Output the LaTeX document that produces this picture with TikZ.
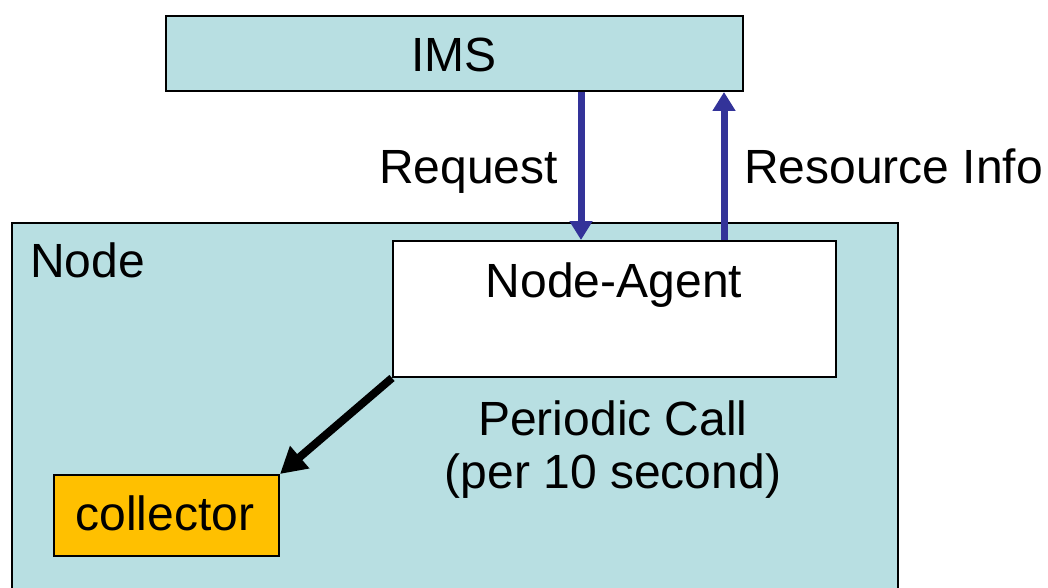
\documentclass[tikz,border=0pt]{standalone}
\usepackage{fontspec}
\setmainfont{Liberation Sans}
\usetikzlibrary{arrows.meta}
\definecolor{paleaqua}{HTML}{B8DFE2}
\definecolor{flowblue}{HTML}{333399}
\definecolor{amber}{HTML}{FFC000}
\tikzset{
  panel/.style={draw=black, line width=2pt, inner sep=0pt, anchor=north west},
  txt/.style={inner sep=0pt, font=\fontsize{48}{52}\selectfont},
  flow/.style={draw=flowblue, line width=7pt, -{Triangle[length=19pt,width=22pt]}},
  call/.style={draw=black, line width=8pt, -{Triangle[length=26pt,width=28pt]}}
}
\begin{document}
\begin{tikzpicture}[x=1pt,y=-1pt]
  \useasboundingbox (0,0) rectangle (1048,588);
  \clip (0,0) rectangle (1048,588);

  % outer host box, running past the lower edge
  \node[panel, fill=paleaqua, minimum width=886pt, minimum height=400pt] (host) at (11,222) {};
  \node[txt, anchor=base west] (hostlbl) at (30,277) {Node};

  % management service
  \node[panel, fill=paleaqua, minimum width=577pt, minimum height=75pt] (ims) at (165,15) {};
  \node[txt, anchor=base] (imslbl) at (454,72) {IMS};

  % agent on the host
  \node[panel, fill=white, minimum width=443pt, minimum height=136pt] (agent) at (392,240) {};
  \node[txt, anchor=base] (agentlbl) at (614,297) {Node-Agent};

  % collector
  \node[panel, fill=amber, minimum width=225pt, minimum height=81pt] (coll) at (53,474) {};
  \node[txt, anchor=base] (colllbl) at (165,530) {collector};

  % request / reply between IMS and the agent
  \coordinate (reqtop) at (ims.south -| 581,0);
  \coordinate (reqbot) at (agent.north -| 581,0);
  \coordinate (inftop) at (ims.south -| 724,0);
  \coordinate (infbot) at (agent.north -| 724,0);
  \draw[flow] (reqtop) -- (reqbot);
  \draw[flow] (infbot) -- (inftop);
  \node[txt, anchor=base west] (reqlbl) at (379,183) {Request};
  \node[txt, anchor=base west] (inflbl) at (744,183) {Resource Info};

  % periodic polling of the collector
  \draw[call] (agent.south west) -- (coll.north east);
  \node[txt, anchor=base] (periodlbl) at (613,435) {Periodic Call};
  \node[txt, anchor=base] (periodlbl2) at (613,488) {(per 10 second)};
\end{tikzpicture}
\end{document}
